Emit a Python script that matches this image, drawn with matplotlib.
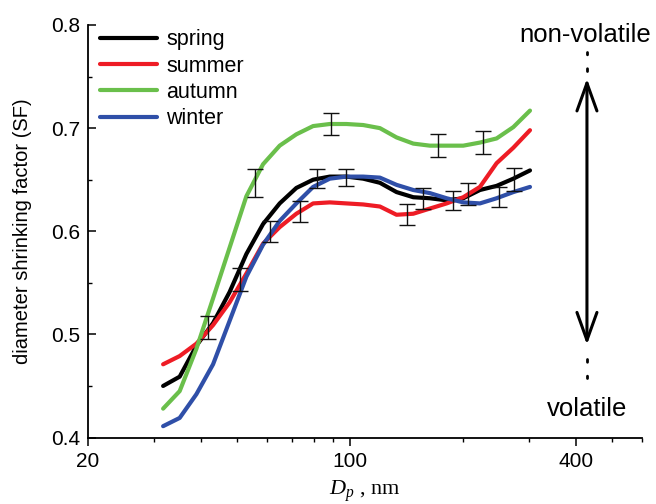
import matplotlib
matplotlib.use('Agg')
import matplotlib.pyplot as plt
from matplotlib.ticker import FixedLocator, NullFormatter

plt.rcParams['font.family'] = ['Liberation Sans', 'DejaVu Sans']
plt.rcParams['mathtext.fontset'] = 'custom'
plt.rcParams['mathtext.rm'] = 'Liberation Serif'
plt.rcParams['mathtext.it'] = 'Liberation Serif:italic'

# particle diameter (nm)
dp = [31.8, 35.2, 39.0, 43.2, 47.8, 53.0, 58.7, 65.0, 72.0, 79.8, 88.4, 97.9,
      108.5, 120.2, 133.1, 147.5, 163.3, 181.0, 200.4, 222.0, 245.9, 272.5, 301.8]

# shrinking factor per season
sf_spring = [0.450, 0.459, 0.489, 0.511, 0.541, 0.578, 0.607, 0.627, 0.642, 0.650, 0.653, 0.653,
             0.651, 0.647, 0.638, 0.633, 0.632, 0.630, 0.632, 0.640, 0.644, 0.651, 0.659]
sf_summer = [0.471, 0.479, 0.491, 0.509, 0.531, 0.559, 0.588, 0.604, 0.617, 0.627, 0.628, 0.627,
             0.626, 0.624, 0.616, 0.617, 0.622, 0.627, 0.633, 0.643, 0.666, 0.681, 0.698]
sf_autumn = [0.428, 0.445, 0.486, 0.535, 0.584, 0.634, 0.665, 0.683, 0.694, 0.702, 0.704, 0.704,
             0.703, 0.700, 0.691, 0.685, 0.683, 0.683, 0.683, 0.686, 0.690, 0.701, 0.717]
sf_winter = [0.411, 0.419, 0.442, 0.471, 0.513, 0.556, 0.587, 0.610, 0.627, 0.643, 0.651, 0.653,
             0.653, 0.652, 0.645, 0.640, 0.637, 0.632, 0.628, 0.627, 0.632, 0.638, 0.643]

# error bars (diameter, centre, half width)
eb_spring_x = [41.9, 50.9, 81.5, 156.1, 206.6, 273.6]
eb_spring_y = [0.507, 0.553, 0.651, 0.632, 0.636, 0.650]
eb_spring_e = [0.011, 0.011, 0.009, 0.010, 0.011, 0.011]
eb_summer_x = [73.5, 142.1, 187.7]
eb_summer_y = [0.619, 0.616, 0.630]
eb_summer_e = [0.010, 0.010, 0.009]
eb_autumn_x = [55.8, 89.3, 171.5, 226.6]
eb_autumn_y = [0.647, 0.704, 0.683, 0.686]
eb_autumn_e = [0.0135, 0.0105, 0.011, 0.011]
eb_winter_x = [61.2, 97.9, 249.5]
eb_winter_y = [0.600, 0.652, 0.633]
eb_winter_e = [0.010, 0.0085, 0.0097]

seasons = ['spring', 'summer', 'autumn', 'winter']
colors = ['#000000', '#ee1c25', '#6abf4b', '#2f4fa8']

fig = plt.figure(figsize=(6.56, 5.04), dpi=100)
ax = fig.add_axes([0.1334, 0.1319, 0.8453, 0.8185])

for name, sf, c in zip(seasons, [sf_spring, sf_summer, sf_autumn, sf_winter], colors):
    ax.plot(dp, sf, color=c, lw=3, label=name, solid_capstyle='round')

for ex, ey, ee in [(eb_spring_x, eb_spring_y, eb_spring_e), (eb_summer_x, eb_summer_y, eb_summer_e),
                   (eb_autumn_x, eb_autumn_y, eb_autumn_e), (eb_winter_x, eb_winter_y, eb_winter_e)]:
    ax.errorbar(ex, ey, yerr=ee, fmt='none', ecolor='#111111', elinewidth=1.0,
                capsize=5.5, capthick=1.0, zorder=5)

ax.set_xscale('log')
ax.set_xlim(20, 600)
ax.set_ylim(0.4, 0.8)
ax.xaxis.set_major_locator(FixedLocator([20, 100, 400]))
ax.xaxis.set_minor_locator(FixedLocator([30, 40, 50, 60, 70, 80, 90, 200, 300, 500, 600]))
ax.set_xticklabels(['20', '100', '400'])
ax.xaxis.set_minor_formatter(NullFormatter())
ax.set_yticks([0.4, 0.5, 0.6, 0.7, 0.8])
ax.set_yticklabels(['0.4', '0.5', '0.6', '0.7', '0.8'])
ax.yaxis.set_minor_locator(FixedLocator([0.45, 0.55, 0.65, 0.75]))

ax.spines['top'].set_visible(False)
ax.spines['right'].set_visible(False)
ax.spines['left'].set_linewidth(1.3)
ax.spines['bottom'].set_linewidth(1.3)
ax.tick_params(axis='x', which='major', direction='out', length=5.5, width=1.1, labelsize=15, pad=5)
ax.tick_params(axis='x', which='minor', direction='out', length=3, width=1.0)
ax.tick_params(axis='y', which='major', direction='in', length=5.5, width=1.1, labelsize=15, pad=5)
ax.tick_params(axis='y', which='minor', direction='in', length=3, width=1.0)

ax.set_ylabel('diameter shrinking factor (SF)', fontsize=14.5, labelpad=14)
ax.set_xlabel(r'$D_p$ , nm', fontsize=16, family='Liberation Serif', labelpad=5)

ax.legend(loc='upper left', bbox_to_anchor=(0.152, 0.942), bbox_transform=fig.transFigure,
          frameon=False, fontsize=15.5, handlelength=2.65, handletextpad=0.45,
          labelspacing=0.25, borderpad=0, borderaxespad=0)

# volatility arrow
ax.annotate('', xy=(428, 0.748), xytext=(428, 0.490), xycoords='data',
            arrowprops=dict(arrowstyle='<->,head_length=1.0,head_width=0.36',
                            lw=2.2, color='black', shrinkA=0, shrinkB=0, mutation_scale=20),
            annotation_clip=False)
ax.plot([428, 428], [0.7555, 0.774], color='black', lw=2, ls=(0, (1, 5)),
        dash_capstyle='round', clip_on=False)
ax.plot([428, 428], [0.4765, 0.458], color='black', lw=2, ls=(0, (1, 5)),
        dash_capstyle='round', clip_on=False)
ax.text(423, 0.790, 'non-volatile', fontsize=18.5, ha='center', va='center')
ax.text(428, 0.428, 'volatile', fontsize=18.5, ha='center', va='center')

fig.savefig('out.png', dpi=100)
